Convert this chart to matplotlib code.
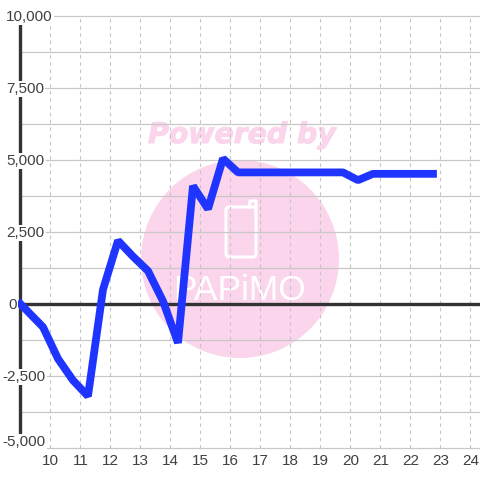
import matplotlib
matplotlib.use('Agg')
import matplotlib.pyplot as plt
import matplotlib.patheffects as pe
from matplotlib.patches import Circle, FancyBboxPatch
from matplotlib.transforms import IdentityTransform

hours = [9.0, 9.75, 10.25, 10.75, 11.25, 11.75, 12.25, 12.75, 13.25, 13.75, 14.25, 14.75,
         15.25, 15.75, 16.25, 16.75, 17.25, 17.75, 18.25, 18.75, 19.25, 19.75, 20.25,
         20.75, 21.25, 21.75, 22.25, 22.75]
values = [0, -800, -1900, -2650, -3200, 500, 2200, 1650, 1150, 100, -1350, 4100,
          3300, 5050, 4570, 4570, 4570, 4570, 4570, 4570, 4570, 4570, 4300,
          4520, 4520, 4520, 4520, 4520]
x_ticks = [10, 11, 12, 13, 14, 15, 16, 17, 18, 19, 20, 21, 22, 23, 24]
y_grid = [-3750, -1250, 1250, 3750, 6250, 8750]
y_ticks = [-5000, -2500, 0, 2500, 5000, 7500, 10000]
y_labels = ['-5,000', '-2,500', '0', '2,500', '5,000', '7,500', '10,000']

plt.rcParams['font.family'] = ['Liberation Sans', 'DejaVu Sans']

W = 480
fig = plt.figure(figsize=(W / 100, W / 100), dpi=100)
ax = fig.add_axes([0, 0, 1, 1])
ax.set_xlim(8.317, 24.317)
ax.set_ylim(-6111, 10556)
ax.axis('off')

# watermark, under the grid
ident = IdentityTransform()
ax.add_patch(Circle((240, W - 259), 99, transform=ident, color='#fbd5ec', lw=0, zorder=1))
ax.add_patch(FancyBboxPatch((226, W - 257), 30, 50, boxstyle='round,pad=0,rounding_size=3',
                            transform=ident, fc='none', ec='white', lw=2.2, zorder=1.5))
# phone antenna
ax.plot([249, 250, 256, 256], [W - 207, W - 201, W - 201, W - 210], color='white', lw=2.2,
        transform=ident, zorder=1.5)
t = ax.text(242, W - 135, 'Powered by', transform=ident, color='#fbd5ec', fontsize=20.4,
            fontweight='bold', fontstyle='italic', family=['DejaVu Sans'],
            ha='center', va='center', zorder=1)
t.set_path_effects([pe.withStroke(linewidth=0.8, foreground='#fbd5ec')])
ax.text(239, W - 291, 'PAPiMO', transform=ident, color='white', fontsize=25.5,
        ha='center', va='center', zorder=1.5)

# grid
ax.hlines(y_ticks + y_grid, 9, 24.317, color='#c8c8c8', lw=0.9, zorder=2)
ax.vlines(x_ticks, -5000, 10000, color='#c4c4c4', lw=0.8, linestyles=(0, (3, 3.5)), zorder=2)

# axes
ax.vlines(9, -5000, 10000, color='#333333', lw=2.4, zorder=3)
ax.hlines(0, 9, 24.317, color='#333333', lw=2.4, zorder=3)

ax.plot(hours, values, color='#1f35ff', lw=5.6, solid_joinstyle='bevel',
        solid_capstyle='projecting', zorder=4)

# tick labels have a white box that cuts the axis and grid
lefts = {'-5,000': 2, '-2,500': 2, '0': 8}
for v, lab in zip(y_ticks, y_labels):
    dy = 6 if v == -5000 else -1
    ax.annotate(lab, xy=(0, v), xycoords=('figure pixels', 'data'),
                xytext=(lefts.get(lab, 6), dy), textcoords='offset pixels',
                fontsize=11, color='#404040', ha='left', va='center', zorder=5,
                bbox=dict(fc='white', ec='none', pad=1))
for h in x_ticks:
    ax.annotate(str(h), xy=(h, 0), xycoords=('data', 'figure pixels'),
                xytext=(0, W - 461), textcoords='offset pixels', fontsize=11,
                color='#404040', ha='center', va='center', zorder=5)

fig.savefig('out.png', dpi=100, facecolor='white')
